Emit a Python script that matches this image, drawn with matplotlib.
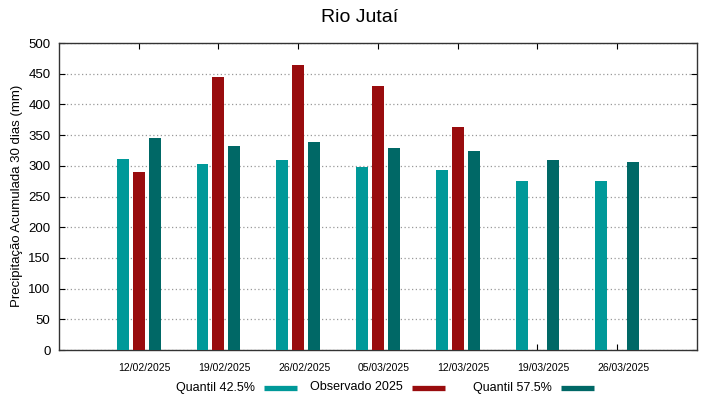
import matplotlib
matplotlib.use("Agg")
import matplotlib.pyplot as plt
import matplotlib.transforms as mtransforms
from matplotlib.lines import Line2D
import numpy as np

plt.rcParams['font.family'] = ['Liberation Sans', 'DejaVu Sans']

datas = ['12/02/2025', '19/02/2025', '26/02/2025', '05/03/2025',
         '12/03/2025', '19/03/2025', '26/03/2025']
quantil_425 = [311, 303, 310, 298, 293, 276, 276]
observado = [290, 444, 465, 430, 363, np.nan, np.nan]
quantil_575 = [345, 333, 339, 329, 324, 309, 307]

cor_q425 = '#009999'
cor_obs = '#990c0e'
cor_q575 = '#006866'

W, H = 719, 399
fig = plt.figure(figsize=(W / 100, H / 100), dpi=100)
ax = fig.add_axes([0.082, 0.1228, 0.8874, 0.7694])

x = np.arange(1, len(datas) + 1)
larg = 0.15
ax.bar(x - 0.2, quantil_425, larg, color=cor_q425, zorder=3)
ax.bar(x, observado, larg, color=cor_obs, zorder=3)
ax.bar(x + 0.2, quantil_575, larg, color=cor_q575, zorder=3)

ax.set_xlim(0, 8)
ax.set_ylim(0, 500)
ax.set_yticks(range(0, 501, 50))
ax.set_xticks(x)
ax.set_xticklabels(datas, fontsize=7.5)
ax.tick_params(axis='y', labelsize=9.5, direction='in', length=4,
               right=True, pad=6)
ax.tick_params(axis='x', direction='in', length=4, top=True, pad=9)
# rotulos do eixo x levemente deslocados para a direita
desloc = mtransforms.ScaledTranslation(6 / 100, 0, fig.dpi_scale_trans)
for lbl in ax.get_xticklabels():
    lbl.set_transform(lbl.get_transform() + desloc)

ax.yaxis.grid(True, linestyle=(0, (1, 2)), color='#999999', linewidth=0.9,
              zorder=0)
for s in ax.spines.values():
    s.set_color('#333333')
    s.set_linewidth(1.0)

fig.text(0.5, 0.957, 'Rio Jutaí', ha='center', va='center', fontsize=14)
fig.text(0.024, 0.509, 'Precipitação Acumulada 30 dias (mm)', rotation=90,
         ha='center', va='center', fontsize=9.5)

# legenda no estilo gnuplot: texto e depois a amostra de cor
nomes = ['Quantil 42.5%', 'Observado 2025', 'Quantil 57.5%']
cores = [cor_q425, cor_obs, cor_q575]
fim_texto = [255, 403, 552]
y_leg = 1 - 387.5 / H
for nome, cor, xf in zip(nomes, cores, fim_texto):
    fig.text(xf / W, y_leg, nome, ha='right', va='center', fontsize=9)
    fig.add_artist(Line2D([(xf + 9) / W, (xf + 42) / W], [y_leg, y_leg],
                          color=cor, linewidth=3.8, solid_capstyle='butt'))

fig.savefig('out.png', dpi=100)
